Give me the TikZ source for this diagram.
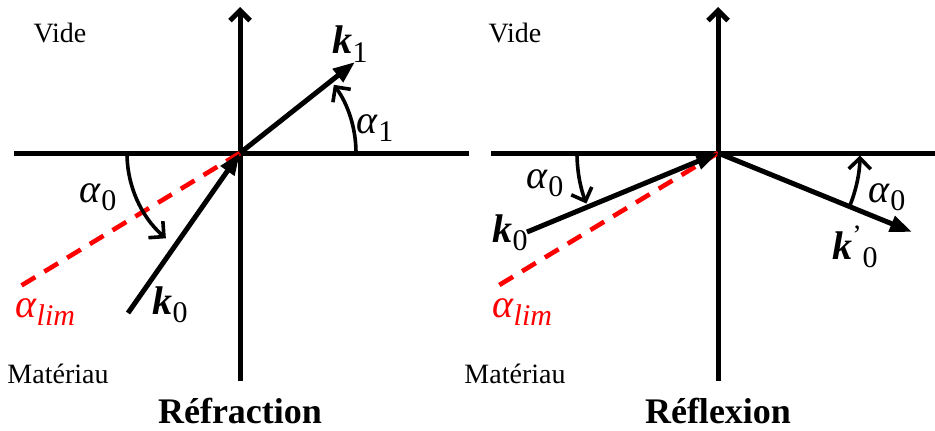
\documentclass[tikz,border=0pt]{standalone}
\usepackage{fontspec}
\setmainfont{Liberation Serif}
\usetikzlibrary{arrows.meta}

\tikzset{
  axe/.style={line width=2.5pt, -{Straight Barb[length=5pt,width=10pt]}},
  plan/.style={line width=2.5pt},
  vecteur/.style={line width=2.5pt, -{Triangle[length=11pt,width=8pt]}},
  limite/.style={red, line width=2.3pt, dash pattern=on 8pt off 5.3pt},
  angle/.style={line width=1.8pt, -{Straight Barb[length=5.5pt,width=11pt]}},
  lbl/.style={font=\fontsize{20}{24}\selectfont, inner sep=0pt},
  milieu/.style={font=\fontsize{14}{16}\selectfont, inner sep=0pt},
  titre/.style={font=\fontsize{18}{21}\selectfont\bfseries, inner sep=0pt}
}
\newcommand{\vk}{\textbf{\textit{k}}}
\newcommand{\ang}{\textit{α}}
\newcommand{\indice}[1]{\raisebox{-0.45ex}{\fontsize{15}{17}\selectfont #1}}

\begin{document}
\begin{tikzpicture}[x=0.5pt, y=0.5pt]
    \useasboundingbox (0,0) rectangle (935,430);

    % Refraction
    \coordinate (O1) at (240,277);
    \coordinate (g1) at (14,277);
    \coordinate (d1) at (469,277);
    \coordinate (b1) at (240,49);
    \coordinate (h1) at (240,423);
    \coordinate (k1) at (355,368);
    \coordinate (k0a) at (128,117);
    \coordinate (lim1) at (14,140);

    \draw[plan] (g1) -- (d1);
    \draw[axe] (b1) -- (h1);
    \draw[limite] (O1) -- (lim1);
    \draw[vecteur] (k0a) -- (O1);
    \draw[vecteur] (O1) -- (k1);
    \draw[angle] (O1) ++(0:116) arc[start angle=0, end angle=36, radius=116];
    \draw[angle] (O1) ++(180:113) arc[start angle=180, end angle=229, radius=113];

    \node[lbl] (nk1) at (350,386) {\vk\indice{1}};
    \node[lbl] (na1) at (375,302) {\ang\indice{1}};
    \node[lbl] (na0) at (98,233) {\ang\indice{0}};
    \node[lbl] (nk0) at (170,125) {\vk\indice{0}};
    \node[lbl, red] (nlim1) at (45,118) {\ang\indice{\itshape lim}};
    \node[milieu] (vide1) at (60,397) {Vide};
    \node[milieu] (mat1) at (58,56) {Matériau};
    \node[titre] (t1) at (240,19) {Réfraction};

    % Reflexion
    \coordinate (O2) at (718,277);
    \coordinate (g2) at (491,277);
    \coordinate (d2) at (935,277);
    \coordinate (b2) at (718,49);
    \coordinate (h2) at (718,423);
    \coordinate (k0b) at (527,198);
    \coordinate (k0r) at (912,198);
    \coordinate (lim2) at (491,140);

    \draw[plan] (g2) -- (d2);
    \draw[axe] (b2) -- (h2);
    \draw[limite] (O2) -- (lim2);
    \draw[vecteur] (k0b) -- (O2);
    \draw[vecteur] (O2) -- (k0r);
    \draw[angle] (O2) ++(180:141) arc[start angle=180, end angle=201, radius=141];
    \draw[angle] (O2) ++(-22:142) arc[start angle=-22, end angle=-1, radius=142];

    \node[lbl] (nb0) at (545,247) {\ang\indice{0}};
    \node[lbl, red] (nlim2) at (522,118) {\ang\indice{\itshape lim}};
    \node[lbl] (nkb) at (510,197) {\vk\indice{0}};
    \node[lbl] (nkr) at (855,183) {\vk\textsuperscript{’}\indice{0}};
    \node[lbl] (nr0) at (887,233) {\ang\indice{0}};
    \node[milieu] (vide2) at (515,397) {Vide};
    \node[milieu] (mat2) at (515,56) {Matériau};
    \node[titre] (t2) at (718,19) {Réflexion};
\end{tikzpicture}
\end{document}
